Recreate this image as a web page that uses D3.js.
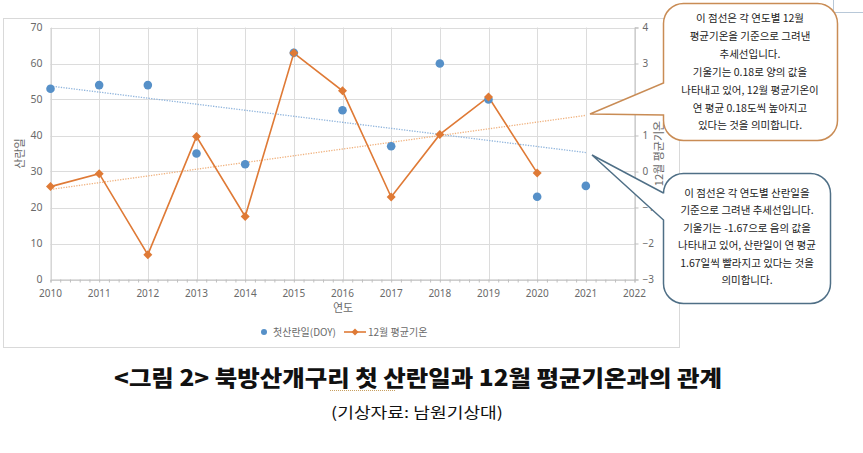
<!DOCTYPE html>
<html><head><meta charset="utf-8">
<script src="https://cdn.jsdelivr.net/npm/d3@7"></script>
<style>body{margin:0;background:#fff}svg{display:block}</style>
</head><body>
<svg id="c" width="863" height="453"></svg>
<script>
const years = [2010,2011,2012,2013,2014,2015,2016,2017,2018,2019,2020,2021];
const doy = [53,54,54,35,32,63,47,37,60,50,23,26];
const decTemp = [-0.42,-0.06,-2.31,0.97,-1.25,3.29,2.24,-0.71,1.03,2.07,-0.04,null];
const xTicks = [2010,2011,2012,2013,2014,2015,2016,2017,2018,2019,2020,2021,2022];
const leftTicks = [0,10,20,30,40,50,60,70];
const rightTicks = [-3,-2,-1,0,1,2,3,4];
const seriesNames = ["첫산란일(DOY)","12월 평균기온"];
const axisTitles = {x:"연도", left:"산란일", right:"12월 평균기온"};
const note1 = ["이 점선은 각 연도별 12월","평균기온을 기준으로 그려낸","추세선입니다.","기울기는 0.18로 양의 값을","나타내고 있어, 12월 평균기온이","연 평균 0.18도씩 높아지고","있다는 것을 의미합니다."];
const note2 = ["이 점선은 각 연도별 산란일을","기준으로 그려낸 추세선입니다.","기울기는 -1.67으로 음의 값을","나타내고 있어, 산란일이 연 평균","1.67일씩 빨라지고 있다는 것을","의미합니다."];
const title = "<그림 2> 북방산개구리 첫 산란일과 12월 평균기온과의 관계";
const subtitle = "(기상자료: 남원기상대)";

const svg = d3.select("#c");
const BLUE = "#5690c8", ORANGE = "#df7a36", GRID = "#dcdcdc", TXT = "#6a6a6a";
const NUM = "'Noto Sans', 'Liberation Sans', sans-serif";
const KR = "'Noto Sans CJK KR', sans-serif";

// chart area border
svg.append("rect").attr("x",3.5).attr("y",18.5).attr("width",676).attr("height",329)
  .attr("fill","none").attr("stroke","#d9d9d9");
svg.append("path").attr("d","M833.5,0 V12.5 H863").attr("fill","none").attr("stroke","#b8c8d8");

const x = d3.scaleLinear().domain([2010,2022]).range([50.5,634.5]);
const yL = d3.scaleLinear().domain([0,70]).range([279.5,27.5]);
const yR = d3.scaleLinear().domain([-3,4]).range([279.5,27.5]);

// gridlines
svg.append("g").selectAll("line").data(leftTicks).join("line")
  .attr("x1",x(2010)).attr("x2",x(2022)).attr("y1",d=>Math.round(yL(d))+0.5).attr("y2",d=>Math.round(yL(d))+0.5)
  .attr("stroke",GRID).attr("stroke-width",1);
svg.append("g").selectAll("line").data(xTicks).join("line")
  .attr("y1",yL(0)).attr("y2",yL(70)).attr("x1",d=>Math.round(x(d))+0.5).attr("x2",d=>Math.round(x(d))+0.5)
  .attr("stroke",GRID).attr("stroke-width",1);

// x axis with minor ticks
const minor = d3.range(2010,2022.001,0.2);
const gx = svg.append("g").attr("transform",`translate(0,${yL(0)})`)
  .call(d3.axisBottom(x).tickValues(minor).tickSize(3).tickFormat(""));
gx.select(".domain").attr("stroke","#bfbfbf");
gx.selectAll(".tick line").attr("stroke","#bfbfbf");
svg.append("g").selectAll("text").data(xTicks).join("text")
  .attr("x",d=>x(d)).attr("y",yL(0)+17).attr("text-anchor","middle")
  .attr("font-family",NUM).attr("font-size",10).attr("fill",TXT).text(d=>d);

// left axis
const gl = svg.append("g").attr("transform",`translate(${x(2010)},0)`)
  .call(d3.axisLeft(yL).tickValues(leftTicks).tickSize(0).tickPadding(8));
gl.select(".domain").attr("stroke","#d0d0d0");
gl.selectAll("text").attr("font-family",NUM).attr("font-size",10.5).attr("fill",TXT);

// right axis
const gr = svg.append("g").attr("transform",`translate(${x(2022)},0)`)
  .call(d3.axisRight(yR).tickValues(rightTicks).tickSize(4).tickPadding(4).tickFormat(d3.format("d")));
gr.select(".domain").attr("stroke","#bfbfbf");
gr.selectAll(".tick line").attr("stroke","#bfbfbf");
gr.selectAll("text").attr("font-family",NUM).attr("font-size",10).attr("fill",TXT);

// axis titles
svg.append("text").attr("transform",`translate(24,${(yL(0)+yL(70))/2}) rotate(-90)`)
  .attr("text-anchor","middle").attr("font-family",KR).attr("font-size",11).attr("fill",TXT).text(axisTitles.left);
svg.append("text").attr("transform",`translate(663,${(yL(0)+yL(70))/2}) rotate(-90)`)
  .attr("text-anchor","middle").attr("font-family",KR).attr("font-size",11).attr("fill",TXT).text(axisTitles.right);
svg.append("text").attr("x",343).attr("y",312).attr("text-anchor","middle")
  .attr("font-family",KR).attr("font-size",11).attr("fill",TXT).text(axisTitles.x);

// linear regression helper
function fit(xs, ys){
  const pts = xs.map((v,i)=>[v,ys[i]]).filter(p=>p[1]!=null);
  const mx = d3.mean(pts,p=>p[0]), my = d3.mean(pts,p=>p[1]);
  const sxy = d3.sum(pts,p=>(p[0]-mx)*(p[1]-my)), sxx = d3.sum(pts,p=>(p[0]-mx)**2);
  const b = sxy/sxx; return v => my + b*(v-mx);
}
const fD = fit(years,doy), fT = fit(years,decTemp);
svg.append("line").attr("x1",x(2010)).attr("x2",x(2021)).attr("y1",yL(fD(2010))).attr("y2",yL(fD(2021)))
  .attr("stroke","#8fb4dc").attr("stroke-width",1.3).attr("stroke-dasharray","1.3,1.3");
svg.append("line").attr("x1",x(2010)).attr("x2",x(2021)).attr("y1",yR(fT(2010))).attr("y2",yR(fT(2021)))
  .attr("stroke","#f0b27f").attr("stroke-width",1.3).attr("stroke-dasharray","1.3,1.3");

// temperature line
const tData = years.map((y,i)=>({y,v:decTemp[i]})).filter(d=>d.v!=null);
svg.append("path").datum(tData).attr("fill","none").attr("stroke",ORANGE).attr("stroke-width",1.6)
  .attr("d",d3.line().x(d=>x(d.y)).y(d=>yR(d.v)));

// blue points
svg.append("g").selectAll("circle").data(years.map((y,i)=>({y,v:doy[i]}))).join("circle")
  .attr("cx",d=>x(d.y)).attr("cy",d=>yL(d.v)).attr("r",4.3).attr("fill",BLUE);

// orange diamonds
svg.append("g").selectAll("path").data(tData).join("path")
  .attr("transform",d=>`translate(${x(d.y)},${yR(d.v)})`)
  .attr("d","M0,-4.5 L4.5,0 L0,4.5 L-4.5,0Z").attr("fill",ORANGE);

// legend
const lg = svg.append("g");
lg.append("circle").attr("cx",264).attr("cy",332).attr("r",3).attr("fill",BLUE);
lg.append("text").attr("x",273).attr("y",336).attr("font-family",KR).attr("font-size",10).attr("fill",TXT).text(seriesNames[0]);
lg.append("line").attr("x1",344).attr("x2",366).attr("y1",332).attr("y2",332).attr("stroke",ORANGE).attr("stroke-width",1.6);
lg.append("path").attr("transform","translate(355,332)").attr("d","M0,-3.5 L3.5,0 L0,3.5 L-3.5,0Z").attr("fill",ORANGE);
lg.append("text").attr("x",368).attr("y",336).attr("font-family",KR).attr("font-size",10).attr("fill",TXT).text(seriesNames[1]);

// callouts
function callout(bx,by,bw,bh,r,tip,b1,b2,color,lines,cx,y0,dy){
  const p = d3.path();
  p.moveTo(bx+r,by); p.lineTo(bx+bw-r,by); p.arcTo(bx+bw,by,bx+bw,by+r,r);
  p.lineTo(bx+bw,by+bh-r); p.arcTo(bx+bw,by+bh,bx+bw-r,by+bh,r);
  p.lineTo(bx+r,by+bh); p.arcTo(bx,by+bh,bx,by+bh-r,r);
  p.lineTo(bx,b2); p.lineTo(tip[0],tip[1]); p.lineTo(bx,b1);
  p.lineTo(bx,by+r); p.arcTo(bx,by,bx+r,by,r); p.closePath();
  svg.append("path").attr("d",p.toString()).attr("fill","#fff").attr("stroke",color).attr("stroke-width",1.5);
  svg.append("g").selectAll("text").data(lines).join("text")
    .attr("x",cx).attr("y",(d,i)=>y0+i*dy).attr("text-anchor","middle")
    .attr("font-family",KR).attr("font-size",10.5).attr("fill","#222").text(d=>d);
}
callout(663.5,3.5,174,137,20,[590,114],83,115,"#c98c55",note1,750,22,17.9);
callout(663.5,173.5,167,130,20,[592,155],193,220,"#4f6f86",note2,747,197,17.4);

// title
svg.append("text").attr("x",418).attr("y",386).attr("text-anchor","middle")
  .attr("font-family",KR).attr("font-weight",900).attr("font-size",22).attr("fill","#111")
  .attr("textLength",608).attr("lengthAdjust","spacingAndGlyphs").text(title);
svg.append("line").attr("x1",330).attr("x2",395).attr("y1",390.5).attr("y2",390.5)
  .attr("stroke","#c8a060").attr("stroke-width",1).attr("stroke-dasharray","1,1");
svg.append("text").attr("x",417).attr("y",418).attr("text-anchor","middle")
  .attr("font-family",KR).attr("font-size",15).attr("fill","#111")
  .attr("textLength",172).attr("lengthAdjust","spacingAndGlyphs").text(subtitle);
</script>
</body></html>
